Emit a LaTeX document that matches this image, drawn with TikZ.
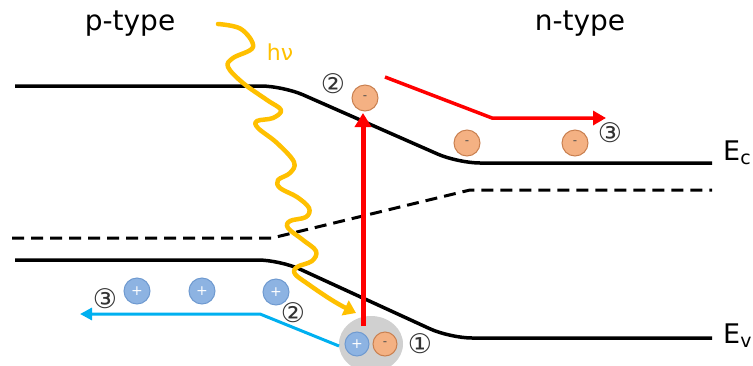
\documentclass[tikz,border=0pt]{standalone}
\usepackage{fontspec}
\setmainfont{DejaVu Sans}
\usetikzlibrary{arrows.meta,shapes.geometric}
\definecolor{holefill}{HTML}{8DB3E2}
\definecolor{holeline}{HTML}{6F9AD0}
\definecolor{elecfill}{HTML}{F4B183}
\definecolor{elecline}{HTML}{C98050}
\definecolor{lightgold}{HTML}{FFC000}
\definecolor{skyblue}{HTML}{00B0F0}
\definecolor{pairgray}{HTML}{D0D0D0}
\tikzset{
  band/.style={line width=3.5pt, rounded corners=22pt},
  hole/.style={circle, draw=holeline, fill=holefill, line width=1pt, minimum size=26pt, inner sep=0pt, text=white, font=\fontsize{14}{14}\selectfont},
  elec/.style={circle, draw=elecline, fill=elecfill, line width=1pt, minimum size=26pt, inner sep=0pt, text=black!70, font=\fontsize{12}{12}\selectfont},
  num/.style={inner sep=0pt, font=\fontsize{27}{27}\selectfont, text=black!80},
  title/.style={inner sep=0pt, font=\fontsize{28}{28}\selectfont},
  elabel/.style={inner sep=0pt, anchor=west, font=\fontsize{27}{27}\selectfont},
}
\begin{document}
\begin{tikzpicture}[x=1pt,y=-1pt]
\useasboundingbox (0,0) rectangle (753,365);
% titles
\node[title] (pt) at (130,24) {p-type};
\node[title] (nt) at (580,24) {n-type};
% bands
\draw[band] (15,86) -- (283,86) -- (458,163) -- (712,163);
\draw[line width=3pt, dashed, dash pattern=on 12pt off 7pt] (12,238) -- (272,238) -- (470,190) -- (712,190);
\draw[band] (15,260) -- (280,260) -- (450,338) -- (712,338);
\node[elabel] (ec) at (723,153) {E$_\mathrm{c}$};
\node[elabel] (ev) at (723,336) {E$_\mathrm{v}$};
% photon
\coordinate (phend) at (356,313);
\draw[lightgold, line width=4.5pt, line cap=round, line join=round, -{Triangle[length=12pt,width=16pt,open,fill=lightgold]}]
 plot[smooth, tension=0.6] coordinates {(218,24) (241,29) (253,47) (233,58) (228,67) (243,83) (267,100) (281,110) (273,118) (257,121) (258,128) (277,143) (294,162) (290,173) (278,180) (280,188) (297,197) (309,208) (306,217) (290,221) (288,228) (303,240) (316,251) (312,261) (297,267) (295,274) (308,284) (327,297) (342,306) (356,313)};
\node[inner sep=0pt, text=lightgold, font=\fontsize{22}{22}\selectfont] (hv) at (280,52) {hν};
% electron-hole pair
\node[ellipse, fill=pairgray, minimum width=64pt, minimum height=56pt, inner sep=0pt] (pair) at (371,344) {};
\node[hole, minimum size=24pt] (h0) at (357,344) {+};
\node[elec, minimum size=24pt] (e0) at (385,344) {-};
\node[num] (n1) at (420,344) {①};
% excitation arrow
\node[elec] (e1) at (365,98) {-};
\coordinate (exstart) at (363,326);
\coordinate (extip) at (363,113);
\draw[red, line width=5pt, -{Triangle[length=14pt,width=16pt]}] (exstart) -- (extip);
\node[num] (n2a) at (333,84) {②};
% electrons in n side
\node[elec] (e2) at (467,143) {-};
\node[elec] (e3) at (575,143) {-};
\node[num] (n3a) at (610,133) {③};
\coordinate (rs) at (385,77);
\coordinate (rc) at (492,118);
\coordinate (re) at (606,118);
\draw[red, line width=3.5pt, -{Triangle[length=13pt,width=14pt]}] (rs) -- (rc) -- (re);
% holes
\node[hole] (h1) at (137,291) {+};
\node[hole] (h2) at (202,291) {+};
\node[hole] (h3) at (276,292) {+};
\node[num] (n3b) at (105,299) {③};
\node[num] (n2b) at (293,313) {②};
\coordinate (bs) at (339,346);
\coordinate (bc) at (260,314);
\coordinate (be) at (80,314);
\draw[skyblue, line width=3pt, -{Triangle[length=12pt,width=12pt]}] (bs) -- (bc) -- (be);
\end{tikzpicture}
\end{document}
